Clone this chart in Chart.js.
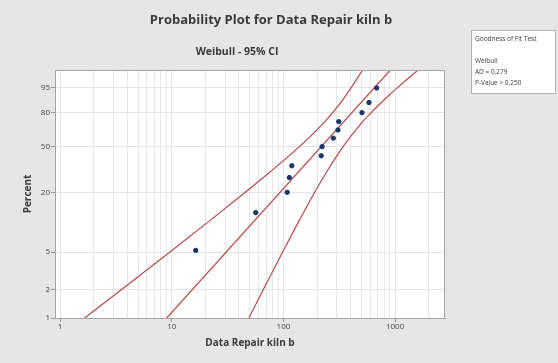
<!DOCTYPE html>
<html>
<head>
<meta charset="utf-8">
<title>Probability Plot for Data Repair kiln b</title>
<script src="https://cdn.jsdelivr.net/npm/chart.js@4.4.0/dist/chart.umd.min.js"></script>
<style>
  html, body { margin: 0; padding: 0; background: #e6e6e6; }
  canvas { display: block; }
</style>
</head>
<body>
<canvas id="probPlot" width="558" height="363"></canvas>
<script>
// Repair times (x) and their median-rank percent (y)
const repairTimes = [16.4, 56.5, 108, 113, 119, 218, 222, 280, 308, 313, 505, 584, 684];
const rankPercent = [5.2, 12.7, 20.1, 27.6, 35.1, 42.5, 50.0, 57.5, 64.9, 72.4, 79.9, 87.3, 94.8];

// Fitted Weibull line (end points)
const fitTimes = [9.02, 907];
const fitPercent = [1, 99];

// 95% confidence bands
const ciPercent = [1, 2, 5, 10, 20, 30, 50, 70, 80, 90, 95, 99];
const ciLowerTimes = [1.66, 3.53, 9.62, 20.7, 45.3, 73.1, 139, 223, 276, 349, 406, 512];
const ciUpperTimes = [49.1, 65.9, 98.4, 135, 190, 239, 342, 489, 612, 831, 1057, 1610];

// Axis ticks
const percentTicks = [1, 2, 5, 20, 50, 80, 95];
const timeLabels = [1, 10, 100, 1000];
const timeGrid = [1, 2, 3, 4, 5, 6, 7, 8, 9,
                  10, 20, 30, 40, 50, 60, 70, 80, 90,
                  100, 200, 300, 400, 500, 600, 700, 800, 900,
                  1000, 2000];

const gofLines = ['Goodness of Fit Test', '', 'Weibull', 'AD = 0.279', 'P-Value > 0.250'];

const FONT = "'Open Sans', 'Noto Sans', sans-serif";
const TEXT = '#3a3a3a';
const RED = '#b84a4e';

// Weibull probability paper: y = ln(-ln(1 - p))
const wb = p => Math.log(-Math.log(1 - p / 100));
const toPoints = (xs, ps) => xs.map((x, i) => ({ x: x, y: wb(ps[i]) }));

// Grey page, white plot area, frame, titles and the goodness-of-fit box
const minitabLook = {
    id: 'minitabLook',
    beforeDraw(chart) {
        const { ctx, chartArea: a } = chart;
        ctx.save();
        ctx.fillStyle = '#e6e6e6';
        ctx.fillRect(0, 0, chart.width, chart.height);
        ctx.fillStyle = '#ffffff';
        ctx.fillRect(a.left, a.top, a.right - a.left, a.bottom - a.top);
        ctx.restore();
    },
    afterDraw(chart) {
        const { ctx, chartArea: a } = chart;
        ctx.save();
        ctx.strokeStyle = '#a4a4a4';
        ctx.lineWidth = 1;
        ctx.strokeRect(a.left + 0.5, a.top + 0.5, a.right - a.left - 1, a.bottom - a.top);

        ctx.fillStyle = TEXT;
        ctx.textAlign = 'center';
        ctx.textBaseline = 'middle';
        ctx.font = 'bold 13px ' + FONT;
        ctx.fillText('Probability Plot for Data Repair kiln b', 271, 20);
        ctx.font = 'bold 10.5px ' + FONT;
        ctx.fillText('Weibull - 95% CI', 237, 52);

        // goodness of fit box
        ctx.fillStyle = '#ffffff';
        ctx.fillRect(471, 30, 85, 64);
        ctx.strokeStyle = '#b0b0b0';
        ctx.strokeRect(471.5, 30.5, 84, 63);
        ctx.fillStyle = TEXT;
        ctx.textAlign = 'left';
        ctx.font = '6.5px ' + FONT;
        const rows = [39, 50, 61, 72, 83];
        gofLines.forEach((t, i) => ctx.fillText(t, 475, rows[i]));
        ctx.restore();
    }
};

const chart = new Chart(document.getElementById('probPlot'), {
    type: 'scatter',
    data: {
        datasets: [{
            label: 'Data Repair kiln b',
            data: toPoints(repairTimes, rankPercent),
            backgroundColor: '#1d3563',
            borderColor: '#1d3563',
            pointRadius: 2.2,
            order: 0
        }, {
            label: 'Fit',
            data: toPoints(fitTimes, fitPercent),
            showLine: true,
            borderColor: RED,
            borderWidth: 1.2,
            pointRadius: 0,
            order: 1
        }, {
            label: 'Lower CI',
            data: toPoints(ciLowerTimes, ciPercent),
            showLine: true,
            borderColor: RED,
            borderWidth: 1.2,
            pointRadius: 0,
            cubicInterpolationMode: 'monotone',
            order: 1
        }, {
            label: 'Upper CI',
            data: toPoints(ciUpperTimes, ciPercent),
            showLine: true,
            borderColor: RED,
            borderWidth: 1.2,
            pointRadius: 0,
            cubicInterpolationMode: 'monotone',
            order: 1
        }]
    },
    options: {
        responsive: false,
        animation: false,
        layout: { padding: { top: 70, right: 113, left: 0, bottom: 0 } },
        plugins: {
            legend: { display: false },
            tooltip: { enabled: false }
        },
        scales: {
            x: {
                type: 'logarithmic',
                min: 0.9,
                max: 2800,
                afterFit: s => { s.height = 45; },
                afterBuildTicks: s => { s.ticks = timeGrid.map(v => ({ value: v })); },
                ticks: {
                    autoSkip: false,
                    maxRotation: 0,
                    padding: 0,
                    color: '#444',
                    font: { family: FONT, size: 8 },
                    callback: v => timeLabels.includes(v) ? String(v) : ''
                },
                grid: {
                    color: '#e8e8e8',
                    tickLength: 4,
                    tickColor: c => (c.tick && timeLabels.includes(c.tick.value)) ? '#999' : 'rgba(0,0,0,0)'
                },
                border: { color: '#a4a4a4' },
                title: {
                    display: true,
                    text: 'Data Repair kiln b',
                    color: TEXT,
                    font: { family: FONT, size: 10, weight: 'bold' },
                    padding: { top: 0, bottom: 14 }
                }
            },
            y: {
                type: 'linear',
                min: wb(1),
                max: wb(99),
                afterFit: s => { s.width = 55; },
                afterBuildTicks: s => { s.ticks = percentTicks.map(p => ({ value: wb(p) })); },
                ticks: {
                    autoSkip: false,
                    padding: 1,
                    color: '#444',
                    font: { family: FONT, size: 8 },
                    callback: (v, i) => String(percentTicks[i])
                },
                grid: { color: '#e4e4e4', tickLength: 4, tickColor: '#999' },
                border: { color: '#a4a4a4' },
                title: {
                    display: true,
                    text: 'Percent',
                    color: TEXT,
                    font: { family: FONT, size: 10, weight: 'bold' },
                    padding: { top: 22, bottom: 0 }
                }
            }
        }
    },
    plugins: [minitabLook]
});
</script>
</body>
</html>
